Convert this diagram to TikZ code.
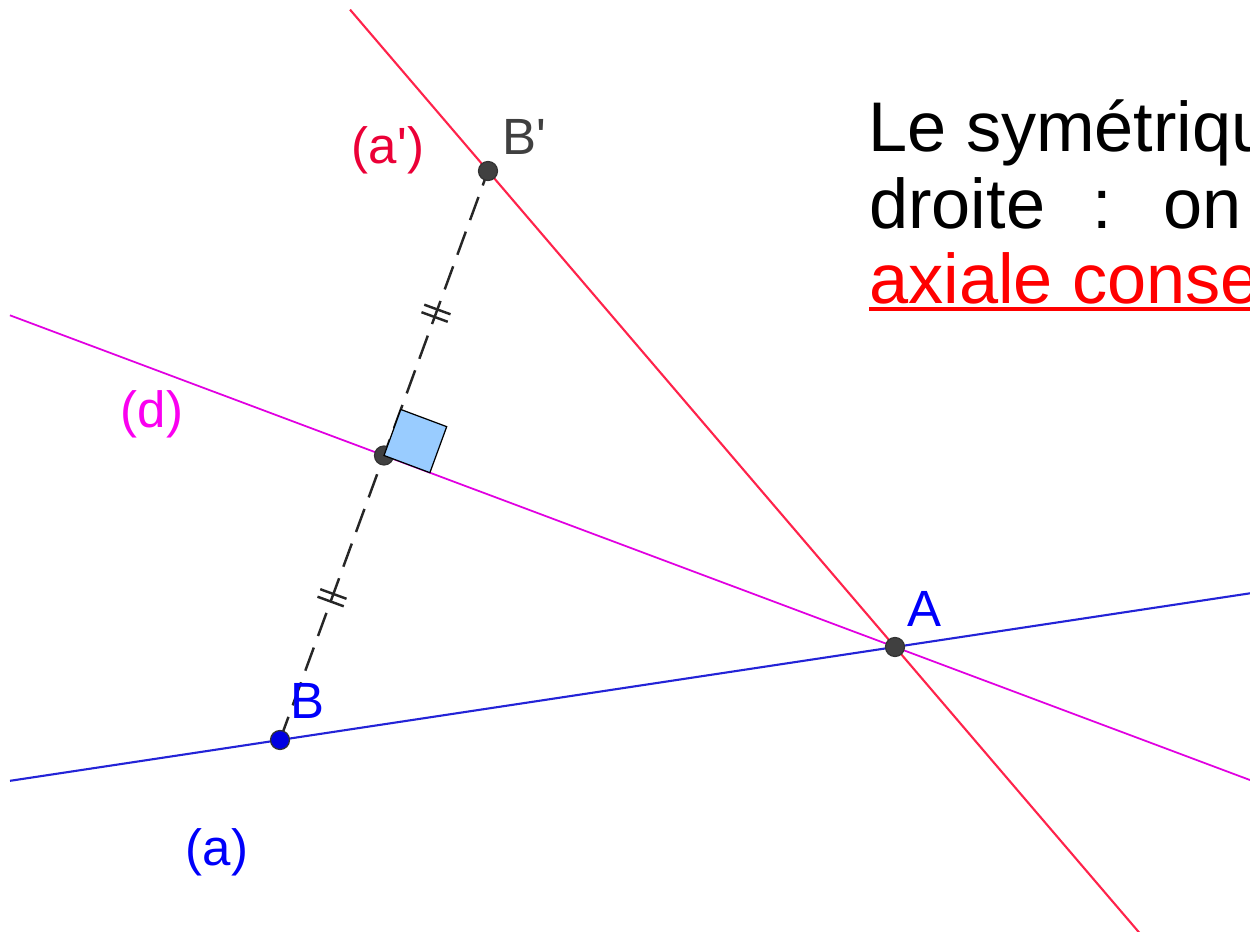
\documentclass[tikz,border=0pt]{standalone}
\usepackage{fontspec}
\setmainfont{Liberation Sans}
\usepackage{tikz}
\usetikzlibrary{calc}
\definecolor{ggred}{RGB}{255,35,75}
\definecolor{ggredlab}{RGB}{235,0,55}
\definecolor{ggmag}{RGB}{225,0,225}
\definecolor{ggmaglab}{RGB}{250,0,240}
\definecolor{ggblue}{RGB}{35,35,215}
\definecolor{ggbluelab}{RGB}{0,0,250}
\definecolor{ggpt}{RGB}{64,64,64}
\definecolor{ggsq}{RGB}{153,204,255}
\newcommand{\dtick}[3]{%
  \coordinate (#3) at ($(#1)!0.5!(#2)$);
  \foreach \s in {-0.08cm,0.08cm}{
    \coordinate (tk) at ($(#3)!\s!(#2)$);
    \draw[tck] ($(tk)!0.28cm!90:(#2)$) -- ($(tk)!0.28cm!-90:(#2)$);}}
\tikzset{
  pt/.style={circle, draw=black!80, fill=ggpt, line width=0.7pt, inner sep=0pt, minimum size=0.38cm},
  lab/.style={font=\fontsize{29}{34}\selectfont, inner sep=0pt},
  txt/.style={font=\fontsize{40}{48}\selectfont, inner sep=0pt, anchor=base west},
  lred/.style={ggred, line width=1.2pt},
  lmag/.style={ggmag, line width=1pt},
  lblue/.style={ggblue, line width=1.2pt},
  dseg/.style={black!85, line width=1.4pt, dash pattern=on 14pt off 7pt},
  tck/.style={black!85, line width=1.4pt},
  rang/.style={fill=ggsq, draw=black, line width=0.7pt},
  uline/.style={red, line width=2.6pt},
}
\begin{document}
\begin{tikzpicture}[x=1cm,y=1cm]
\useasboundingbox (0,0) rectangle (25,18.62);
\clip (0,0) rectangle (25,18.62);
\coordinate (pA) at (17.90,5.68);
\coordinate (pB) at (5.60,3.82);
\coordinate (pBp) at (9.76,15.20);
\coordinate (pM) at ($(pB)!0.5!(pBp)$);
% the three lines
\draw[lred] ($(pBp)!-0.339!(pA)$) -- ($(pBp)!2!(pA)$);
\draw[lmag] ($(pM)!-0.732!(pA)$) -- ($(pM)!2!(pA)$);
\draw[lblue] ($(pB)!-0.439!(pA)$) -- ($(pB)!2!(pA)$);
% segment [BB'] and its marks
\draw[dseg] (pB) -- (pBp);
\dtick{pB}{pM}{m1}
\dtick{pM}{pBp}{m2}
\node[pt] (M) at (pM) {};
\coordinate (qb) at ($(pM)!0.98cm!(pBp)$);
\coordinate (qa) at ($(pM)!0.98cm!(pA)$);
\filldraw[rang] (pM) -- (qb) -- ($(qb)+(qa)-(pM)$) -- (qa) -- cycle;
\node[pt] (A) at (pA) {};
\node[pt, fill=ggbluelab!90!black] (B) at (pB) {};
\node[pt] (Bp) at (pBp) {};
% labels
\node[lab, text=ggredlab] (lap) at (7.76,15.62) {(a\textquotesingle)};
\node[lab, text=ggpt] (lbp) at (10.48,15.88) {B\textquotesingle};
\node[lab, text=ggmaglab] (ld) at (3.04,10.34) {(d)};
\node[lab, text=ggbluelab] (la) at (18.48,6.44) {A};
\node[lab, text=ggbluelab] (lb) at (6.14,4.60) {B};
\node[lab, text=ggbluelab] (laa) at (4.34,1.58) {(a)};
% text
\node[txt] (t1) at (17.36,15.587) {Le symétrique};
\node[txt] (t2) at (17.38,14.053) {droite\hspace{0.94cm}:\hspace{1.03cm}on};
\node[txt, text=red] (t3) at (17.38,12.54) {axiale conserve};
\draw[uline] ([yshift=-0.1cm]t3.base west) -- ([yshift=-0.1cm]t3.base east);
\end{tikzpicture}
\end{document}
